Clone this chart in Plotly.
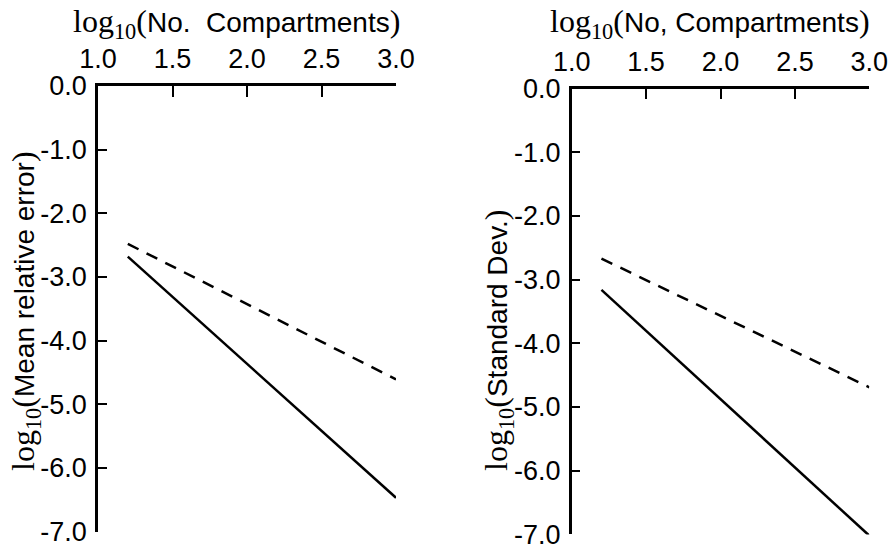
import plotly.graph_objects as go

W, H = 891, 551

# Data
x_vals = [1.2, 3.0]
mre_solid = [-2.68, -6.47]
mre_dashed = [-2.48, -4.61]
sd_solid = [-3.16, -7.02]
sd_dashed = [-2.67, -4.69]

x_ticks = [1.0, 1.5, 2.0, 2.5, 3.0]
x_ticktext = ["1.0", "1.5", "2.0", "2.5", "3.0"]
y_ticks = [0, -1, -2, -3, -4, -5, -6, -7]
y_ticktext = ["0.0", "-1.0", "-2.0", "-3.0", "-4.0", "-5.0", "-6.0", "-7.0"]

SANS = "Liberation Sans"
SERIF = "Liberation Serif"
FS_TICK = 27
FS_TITLE = 28


def px_x(p):
    return p / W


def px_y(p):
    return 1 - p / H


fig = go.Figure()
line_solid = dict(color="black", width=2.5)
line_dash = dict(color="black", width=2.5, dash="12px,9px")

fig.add_trace(go.Scatter(x=x_vals, y=mre_solid, mode="lines", line=line_solid, xaxis="x", yaxis="y"))
fig.add_trace(go.Scatter(x=x_vals, y=mre_dashed, mode="lines", line=line_dash, xaxis="x", yaxis="y"))
fig.add_trace(go.Scatter(x=x_vals, y=sd_solid, mode="lines", line=line_solid, xaxis="x2", yaxis="y2"))
fig.add_trace(go.Scatter(x=x_vals, y=sd_dashed, mode="lines", line=line_dash, xaxis="x2", yaxis="y2"))

common_x = dict(
    range=[1.0, 3.0], side="top", showline=True, linewidth=2.5, linecolor="black",
    ticks="inside", ticklen=11, tickwidth=2.2, tickcolor="black",
    tickvals=x_ticks, ticktext=x_ticktext, showgrid=False, zeroline=False,
    tickfont=dict(family=SANS, size=FS_TICK, color="black"), ticklabelstandoff=4,
    fixedrange=True, automargin=False,
)
common_y = dict(
    range=[-7, 0], showline=True, linewidth=2.5, linecolor="black",
    ticks="inside", ticklen=9, tickwidth=2.2, tickcolor="black",
    tickvals=y_ticks, ticktext=y_ticktext, showgrid=False, zeroline=False,
    tickfont=dict(family=SANS, size=FS_TICK, color="black"), ticklabelstandoff=3,
    fixedrange=True, automargin=False,
)

fig.update_layout(
    width=W, height=H,
    margin=dict(l=0, r=0, t=0, b=0, pad=0, autoexpand=False),
    paper_bgcolor="white", plot_bgcolor="white",
    showlegend=False,
    xaxis=dict(common_x, domain=[px_x(98), px_x(396)], anchor="y"),
    yaxis=dict(common_y, domain=[px_y(531.5), px_y(86)], anchor="x"),
    xaxis2=dict(common_x, domain=[px_x(571.7), px_x(869.3)], anchor="y2"),
    yaxis2=dict(common_y, domain=[px_y(534.4), px_y(88.6)], anchor="x2"),
)


def lbl(text):
    return (f"<span style=\"font-family:'{SERIF}';font-size:32px\">log<sub>10</sub>(</span>"
            f"{text}<span style=\"font-family:'{SERIF}';font-size:32px\">)</span>")


ann_font = dict(family=SANS, size=FS_TITLE, color="black")
fig.add_annotation(x=px_x(236), y=px_y(1), xref="paper", yref="paper",
                   text=lbl("No.&nbsp; Compartments"), showarrow=False,
                   xanchor="center", yanchor="top", font=ann_font)
fig.add_annotation(x=px_x(710), y=px_y(1), xref="paper", yref="paper",
                   text=lbl("No, Compartments"), showarrow=False,
                   xanchor="center", yanchor="top", font=ann_font)
fig.add_annotation(x=px_x(25), y=px_y(473), xref="paper", yref="paper",
                   text=lbl("Mean relative error"), showarrow=False, textangle=-90,
                   xanchor="center", yanchor="bottom", font=ann_font)
fig.add_annotation(x=px_x(498), y=px_y(473), xref="paper", yref="paper",
                   text=lbl("Standard Dev."), showarrow=False, textangle=-90,
                   xanchor="center", yanchor="bottom", font=ann_font)

fig.write_html("out.html", config={"displayModeBar": False},
               post_script="document.body.style.margin='0';document.body.style.overflow='hidden';")
